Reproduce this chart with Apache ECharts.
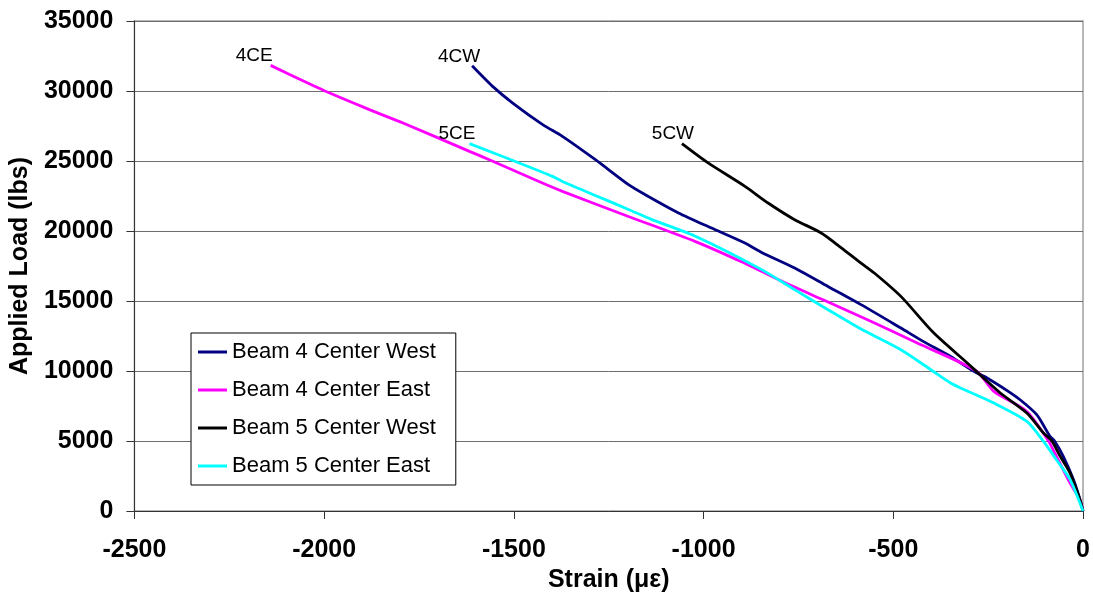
<!DOCTYPE html>
<html>
<head>
<meta charset="utf-8">
<script src="https://cdn.jsdelivr.net/npm/echarts@6/dist/echarts.min.js"></script>
<style>
  html, body { margin: 0; padding: 0; background: #fff; }
  #chart { width: 1093px; height: 603px; }
</style>
</head>
<body>
<div id="chart"></div>
<script>
// Load vs. strain readings for the four centre gauges (strain in microstrain, load in lbs)
const seriesNames = ['Beam 4 Center West', 'Beam 4 Center East', 'Beam 5 Center West', 'Beam 5 Center East'];
const endTags = ['4CW', '4CE', '5CW', '5CE'];
const seriesColors = ['#000080', '#FF00FF', '#000000', '#00FFFF'];

const b4wStrain = [0, -10, -25, -52, -75, -87, -122, -165, -200, -253, -289, -349, -420, -480, -585, -672, -760, -847, -891, -979, -1066, -1154, -1198, -1285, -1372, -1424, -1503, -1556, -1610];
const b4wLoad   = [0, 1000, 2240, 3900, 5000, 5330, 6880, 7930, 8600, 9500, 10000, 11040, 12100, 13070, 14740, 16040, 17360, 18470, 19140, 20210, 21290, 22600, 23310, 25090, 26760, 27600, 29140, 30330, 31800];

const b4eStrain = [0, -8, -34, -70, -91, -148, -235, -281, -437, -568, -682, -769, -900, -1023, -1198, -1372, -1443, -1557, -1617, -1792, -1879, -1998, -2046, -2141];
const b4eLoad   = [0, 800, 2000, 3900, 5000, 7110, 8540, 10000, 12000, 13660, 15050, 16100, 17800, 19260, 21040, 22830, 23640, 25000, 25690, 27710, 28650, 30000, 30600, 31830];

const b5wStrain = [0, -8, -34, -60, -82, -104, -148, -218, -260, -305, -393, -480, -550, -585, -637, -690, -760, -830, -891, -988, -1057];
const b5wLoad   = [0, 810, 2710, 3900, 5000, 5570, 7000, 8430, 9450, 10570, 12710, 15330, 17000, 17710, 18800, 19860, 20810, 22000, 23190, 24860, 26240];

const b5eStrain = [0, -34, -70, -104, -148, -235, -323, -349, -401, -480, -585, -672, -760, -847, -1023, -1136, -1198, -1267, -1372, -1398, -1486, -1617];
const b5eLoad   = [0, 2240, 3660, 4970, 6400, 7710, 8790, 9140, 10090, 11520, 13000, 14380, 15810, 17240, 19640, 20810, 21540, 22330, 23540, 23900, 24860, 26240];

// Horizontal shift of each end tag relative to the curve's end point
const tagShift = [-21, -24.5, -17, -20.5];

const strainSets = [b4wStrain, b4eStrain, b5wStrain, b5eStrain];
const loadSets = [b4wLoad, b4eLoad, b5wLoad, b5eLoad];

const FONT = '"Liberation Sans", Arial, sans-serif';

const series = seriesNames.map((name, i) => ({
  name: name,
  type: 'line',
  data: strainSets[i].map((x, k) => [x, loadSets[i][k]]),
  showSymbol: false,
  symbol: 'none',
  smooth: 0.25,
  color: seriesColors[i],
  lineStyle: { color: seriesColors[i], width: 2.8 },
  animation: false,
  endLabel: {
    show: true,
    formatter: endTags[i],
    color: '#000',
    fontFamily: FONT,
    fontSize: 19,
    align: 'center',
    verticalAlign: 'bottom',
    offset: [tagShift[i], 0]
  },
  z: 2 + i
}));

const chart = echarts.init(document.getElementById('chart'), null, { renderer: 'canvas' });
chart.setOption({
  animation: false,
  backgroundColor: '#fff',
  grid: {
    left: 131, right: 10, top: 21, bottom: 92,
    show: true, borderColor: '#a0a0a0', borderWidth: 1.5, backgroundColor: 'transparent'
  },
  legend: {
    show: true,
    orient: 'vertical',
    left: 191, top: 333,
    data: seriesNames,
    icon: 'rect',
    itemWidth: 29, itemHeight: 3,
    itemGap: 16,
    padding: [8, 20, 8, 7],
    borderColor: '#000', borderWidth: 1,
    backgroundColor: '#fff',
    textStyle: { color: '#000', fontFamily: FONT, fontSize: 22, lineHeight: 22 }
  },
  xAxis: {
    type: 'value',
    min: -2500, max: 0, interval: 500,
    name: 'Strain (\u03bc\u03b5)',
    nameLocation: 'middle',
    nameGap: 57,
    nameTextStyle: { color: '#000', fontFamily: FONT, fontSize: 25, fontWeight: 'bold' },
    axisLine: { onZero: false, lineStyle: { color: '#333', width: 1 } },
    axisTick: { show: true, inside: false, length: 8, lineStyle: { color: '#333' } },
    axisLabel: { color: '#000', fontFamily: FONT, fontSize: 25, fontWeight: 'bold', margin: 27, formatter: v => String(v) },
    splitLine: { show: false }
  },
  yAxis: {
    type: 'value',
    min: 0, max: 35000, interval: 5000,
    name: 'Applied Load (lbs)',
    nameLocation: 'middle',
    nameGap: 100,
    nameRotate: 90,
    nameTextStyle: { color: '#000', fontFamily: FONT, fontSize: 25, fontWeight: 'bold' },
    axisLine: { show: true, onZero: false, lineStyle: { color: '#333', width: 1 } },
    axisTick: { show: true, inside: false, length: 8, lineStyle: { color: '#333' } },
    axisLabel: { color: '#000', fontFamily: FONT, fontSize: 25, fontWeight: 'bold', margin: 21, formatter: v => String(v) },
    splitLine: { show: true, lineStyle: { color: '#6e6e6e', width: 1 } }
  },
  series: series
});
</script>
</body>
</html>
